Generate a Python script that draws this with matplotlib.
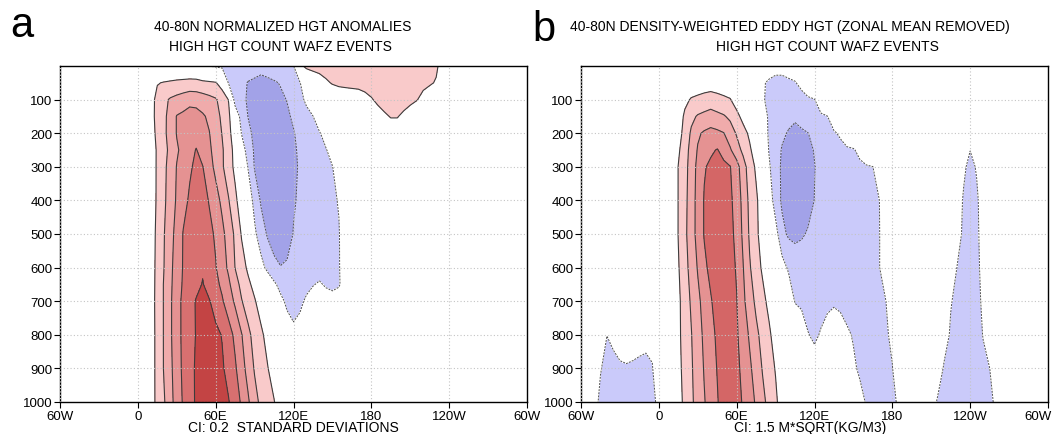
import numpy as np
import matplotlib.pyplot as plt
from matplotlib.transforms import ScaledTranslation

plt.rcParams["font.family"] = ["Liberation Sans", "DejaVu Sans"]

# Longitude grid (-60 = 60W ... 300 = 60W again), 5 degree spacing
lon_grid = np.arange(-60, 305, 5)
x_ticks = [-60, 0, 60, 120, 180, 240, 300]
x_labels = ["60W", "0", "60E", "120E", "180", "120W", "60W"]
y_ticks = [100, 200, 300, 400, 500, 600, 700, 800, 900, 1000]

# ---------------- panel a : normalized HGT anomalies (CI 0.2) ----------------
a_plev = [0, 50, 100, 150, 200, 250, 300, 400, 500, 600, 650, 700, 800, 900, 1000]

# main block, lon 5E..165E every 5 deg (red column + blue trough)
a_main_lon0 = 5
a_main = [
    [0, 0, 0, 0, 0, 0, 0, 0, 0, -0.125, -0.207, -0.225, -0.243, -0.261, -0.279, -0.296, -0.314, -0.332, -0.35, -0.323, -0.295, -0.268, -0.241, -0.214, 0, 0, 0, 0, 0, 0, 0, 0, 0],
    [0, 0.06, 0.19, 0.21, 0.225, 0.24, 0.25, 0.26, 0.255, 0.245, 0.235, 0.215, 0.1, -0.22, -0.29, -0.359, -0.408, -0.427, -0.446, -0.436, -0.418, -0.39, -0.336, -0.272, -0.208, -0.06, 0, 0, 0, 0, 0, 0, 0],
    [0, 0.133, 0.251, 0.353, 0.421, 0.459, 0.497, 0.535, 0.528, 0.491, 0.455, 0.418, 0.333, 0.19, -0.3, -0.366, -0.416, -0.448, -0.481, -0.488, -0.459, -0.429, -0.395, -0.329, -0.257, -0.16, 0, 0, 0, 0, 0, 0, 0],
    [0, 0.137, 0.254, 0.354, 0.47, 0.61, 0.642, 0.683, 0.673, 0.627, 0.562, 0.467, 0.365, 0.247, -0.04, -0.28, -0.405, -0.453, -0.502, -0.55, -0.508, -0.467, -0.425, -0.377, -0.32, -0.263, -0.206, -0.03, 0, 0, 0, 0, 0],
    [0, 0.12, 0.244, 0.356, 0.475, 0.61, 0.654, 0.708, 0.718, 0.663, 0.608, 0.504, 0.392, 0.264, 0.067, -0.21, -0.354, -0.441, -0.499, -0.557, -0.552, -0.504, -0.457, -0.409, -0.362, -0.314, -0.267, -0.219, -0.1, 0, 0, 0, 0],
    [0, 0.1, 0.222, 0.333, 0.45, 0.575, 0.657, 0.729, 0.81, 0.717, 0.633, 0.533, 0.422, 0.293, 0.133, -0.089, -0.291, -0.425, -0.488, -0.55, -0.589, -0.533, -0.478, -0.422, -0.376, -0.336, -0.296, -0.256, -0.216, -0.1, 0, 0, 0],
    [0, 0.093, 0.225, 0.35, 0.48, 0.608, 0.692, 0.775, 0.839, 0.806, 0.68, 0.55, 0.425, 0.295, 0.151, -0.025, -0.21, -0.414, -0.483, -0.551, -0.62, -0.557, -0.494, -0.431, -0.382, -0.347, -0.312, -0.277, -0.242, -0.207, -0.067, 0, 0],
    [0, 0.093, 0.227, 0.36, 0.493, 0.624, 0.741, 0.826, 0.874, 0.867, 0.789, 0.678, 0.554, 0.41, 0.248, 0.086, -0.082, -0.26, -0.426, -0.514, -0.602, -0.561, -0.488, -0.415, -0.376, -0.346, -0.317, -0.287, -0.257, -0.227, -0.19, -0.02, 0],
    [0, 0.107, 0.243, 0.386, 0.529, 0.667, 0.81, 0.85, 0.9, 0.906, 0.847, 0.775, 0.65, 0.514, 0.364, 0.183, 0.009, -0.165, -0.3, -0.422, -0.533, -0.562, -0.468, -0.393, -0.367, -0.341, -0.315, -0.289, -0.263, -0.236, -0.21, -0.1, 0],
    [0, 0.111, 0.251, 0.394, 0.55, 0.694, 0.813, 0.869, 0.924, 0.98, 0.895, 0.81, 0.694, 0.563, 0.396, 0.284, 0.164, 0.012, -0.139, -0.246, -0.323, -0.39, -0.379, -0.358, -0.338, -0.317, -0.296, -0.275, -0.254, -0.233, -0.213, -0.1, 0],
    [0, 0.113, 0.255, 0.41, 0.559, 0.707, 0.823, 0.885, 0.948, 1.01, 0.931, 0.852, 0.759, 0.637, 0.481, 0.346, 0.242, 0.14, 0.04, -0.07, -0.17, -0.25, -0.3, -0.31, -0.29, -0.25, -0.21, -0.18, -0.22, -0.25, -0.22, -0.1, 0],
    [0, 0.114, 0.26, 0.41, 0.568, 0.723, 0.845, 0.936, 1.014, 1.06, 1.013, 0.925, 0.821, 0.7, 0.567, 0.41, 0.309, 0.218, 0.11, 0, -0.1, -0.16, -0.23, -0.28, -0.24, -0.17, -0.12, -0.1, -0.12, -0.12, -0.1, -0.05, 0],
    [0, 0.111, 0.255, 0.41, 0.568, 0.723, 0.843, 0.93, 1.01, 1.06, 1.091, 1.043, 0.991, 0.88, 0.756, 0.61, 0.446, 0.333, 0.238, 0.133, 0.022, -0.05, -0.12, -0.15, -0.12, -0.08, -0.05, -0.04, -0.04, -0.03, -0.02, 0, 0],
    [0, 0.111, 0.255, 0.409, 0.554, 0.706, 0.841, 0.943, 1.023, 1.077, 1.13, 1.077, 1.023, 0.938, 0.827, 0.681, 0.525, 0.383, 0.297, 0.21, 0.106, 0, -0.04, -0.05, -0.04, -0.03, -0.02, 0, 0, 0, 0, 0, 0],
    [0, 0.114, 0.25, 0.375, 0.533, 0.686, 0.822, 0.933, 1.023, 1.081, 1.138, 1.11, 1.06, 1.01, 0.9, 0.771, 0.629, 0.467, 0.354, 0.277, 0.21, 0.089, 0, 0, 0, 0, 0, 0, 0, 0, 0, 0, 0],
]

# small positive patch near the top, lon 125E..240E, levels 0..200 hPa
a_pink_lon0 = 125
a_pink = [
    [0.15, 0.25, 0.28, 0.3, 0.32, 0.33, 0.34, 0.34, 0.35, 0.35, 0.35, 0.35, 0.35, 0.35, 0.35, 0.34, 0.34, 0.33, 0.32, 0.3, 0.28, 0.24, 0.1, 0],
    [0, 0, 0.02, 0.08, 0.16, 0.22, 0.26, 0.28, 0.3, 0.31, 0.32, 0.32, 0.32, 0.32, 0.32, 0.31, 0.3, 0.29, 0.27, 0.25, 0.23, 0.18, 0.05, 0],
    [0, 0, 0, 0, 0, 0, 0, 0, 0, 0.02, 0.1, 0.18, 0.25, 0.28, 0.29, 0.29, 0.28, 0.25, 0.21, 0.14, 0.05, 0, 0, 0],
    [0, 0, 0, 0, 0, 0, 0, 0, 0, 0, 0, 0, 0.1, 0.17, 0.21, 0.21, 0.16, 0.1, 0.05, 0, 0, 0, 0, 0],
    [0, 0, 0, 0, 0, 0, 0, 0, 0, 0, 0, 0, 0, 0, 0.1, 0.1, 0, 0, 0, 0, 0, 0, 0, 0],
]

# ---------------- panel b : density-weighted eddy HGT (CI 1.5) ----------------
b_plev = [0, 50, 100, 150, 200, 250, 300, 400, 500, 600, 700, 800, 900, 1000]

# red column, lon 5E..100E
b_red_lon0 = 5
b_red = [
    [0] * 20,
    [0, 0, 0, 0.2, 0.45, 0.6, 0.7, 0.75, 0.7, 0.6, 0.4, 0.2, 0.05, 0, 0, 0, 0, 0, 0, 0],
    [0, 0, 0, 1.125, 1.636, 1.83, 2.025, 2.19, 1.98, 1.78, 1.58, 0.75, 0, 0, 0, 0, 0, 0, 0, 0],
    [0, 0, 0.625, 1.765, 2.65, 3.138, 3.369, 3.6, 3.369, 3.138, 2.7, 1.95, 1.0, 0, 0, 0, 0, 0, 0, 0],
    [0, 0, 0.85, 2.06, 3.214, 4.286, 4.7, 4.95, 4.8, 4.55, 3.75, 2.847, 2.082, 1.2, 0, 0, 0, 0, 0, 0],
    [0, 0, 1.25, 2.357, 3.5, 4.615, 5.192, 5.769, 6.08, 5.5, 4.667, 3.643, 2.647, 1.765, 0.625, 0, 0, 0, 0, 0],
    [0, 0.3, 1.539, 2.455, 3.682, 4.895, 5.882, 6.281, 6.6, 6.327, 6.055, 5.091, 3.615, 2.3, 1.25, 0, 0, 0, 0, 0],
    [0, 0.3, 1.542, 2.583, 3.75, 5.017, 6.098, 6.508, 6.918, 6.667, 6.25, 5.455, 4.0, 2.647, 1.765, 0.625, 0, 0, 0, 0],
    [0, 0.25, 1.55, 2.654, 3.808, 5.0, 6.092, 6.554, 7.015, 6.892, 6.379, 5.632, 4.2, 2.8, 1.8, 0.875, 0, 0, 0, 0],
    [0, 0.125, 1.375, 2.464, 3.536, 4.607, 5.679, 6.396, 6.961, 7.074, 6.509, 5.864, 4.55, 3.136, 2.206, 1.25, 0, 0, 0, 0],
    [0, 0, 1.175, 2.221, 3.192, 4.154, 5.033, 5.867, 6.593, 7.3, 6.65, 6.05, 4.828, 3.669, 2.694, 1.966, 1.05, 0, 0, 0],
    [0, 0, 1.175, 2.11, 2.934, 3.896, 4.779, 5.515, 6.254, 7.0, 6.881, 6.182, 5.279, 4.305, 3.331, 2.519, 1.791, 0.75, 0, 0],
    [0, 0, 1.05, 2.016, 2.823, 3.713, 4.602, 5.33, 6.062, 6.836, 7.029, 6.352, 5.6, 4.767, 3.838, 2.898, 2.17, 1.4, 0.15, 0],
    [0, 0, 0.85, 1.9, 2.733, 3.567, 4.4, 5.147, 5.882, 6.666, 7.17, 6.52, 5.85, 5.1, 4.313, 3.375, 2.55, 1.8, 0.75, 0],
]

# blue trough east of the column, lon 75E..190
b_blue_lon0 = 75
b_blue = [
    [0, -0.5, -0.8, -1.0, -1.0, -0.8, -0.5, -0.2, 0, 0, 0, 0, 0, 0, 0, 0, 0, 0, 0, 0, 0, 0, 0, 0],
    [0, -1.35, -1.696, -1.913, -1.909, -1.758, -1.606, -1.05, 0, 0, 0, 0, 0, 0, 0, 0, 0, 0, 0, 0, 0, 0, 0, 0],
    [0, -1.38, -1.758, -2.039, -2.319, -2.6, -2.338, -2.076, -1.814, -1.552, -0.3, 0, 0, 0, 0, 0, 0, 0, 0, 0, 0, 0, 0, 0],
    [0, -0.9, -1.691, -2.014, -2.327, -2.645, -2.847, -2.583, -2.319, -2.055, -1.792, -1.526, -0.15, 0, 0, 0, 0, 0, 0, 0, 0, 0, 0, 0],
    [0, -0.6, -1.714, -2.25, -2.786, -3.1, -3.267, -3.167, -3.02, -2.688, -2.375, -2.063, -1.75, -1.2, 0, 0, 0, 0, 0, 0, 0, 0, 0, 0],
    [0, -0.18, -1.605, -2.477, -3.092, -3.323, -3.554, -3.415, -3.185, -2.957, -2.739, -2.522, -2.304, -2.087, -1.87, -1.652, -1.05, 0, 0, 0, 0, 0, 0, 0],
    [0, 0, -1.29, -2.524, -3.171, -3.457, -3.743, -3.578, -3.3, -3.022, -2.847, -2.681, -2.514, -2.348, -2.182, -2.015, -1.849, -1.683, -1.517, -0.15, 0, 0, 0, 0],
    [0, 0, -0.6, -2.25, -3.208, -3.554, -3.9, -3.59, -3.279, -2.985, -2.838, -2.691, -2.544, -2.397, -2.25, -2.103, -1.956, -1.809, -1.662, -1.515, -0.15, 0, 0, 0],
    [0, 0, 0, -0.9, -2.625, -3.2, -3.35, -3.1, -2.925, -2.8, -2.675, -2.55, -2.425, -2.3, -2.175, -2.05, -1.925, -1.8, -1.675, -1.55, -0.6, 0, 0, 0],
    [0, 0, 0, 0, -0.9, -1.731, -2.115, -2.5, -2.421, -2.343, -2.264, -2.185, -2.106, -2.028, -1.949, -1.87, -1.791, -1.713, -1.634, -1.555, -0.45, 0, 0, 0],
    [0, 0, 0, 0, 0, -0.3, -1.6, -1.8, -1.95, -2.0, -1.9, -1.7, -1.6, -1.65, -1.75, -1.8, -1.8, -1.75, -1.7, -1.6, -1.52, -0.5, 0, 0],
    [0, 0, 0, 0, 0, 0, 0, -0.6, -1.45, -1.7, -1.4, -1.15, -1.05, -1.2, -1.4, -1.55, -1.7, -1.8, -1.8, -1.75, -1.7, -1.2, 0, 0],
    [0, 0, 0, 0, 0, 0, 0, -0.3, -0.7, -1.0, -1.0, -0.9, -0.9, -1.0, -1.2, -1.4, -1.6, -1.8, -1.85, -1.8, -1.7, -1.55, -0.5, 0],
    [0, 0, 0, 0, 0, 0, 0, 0, -0.3, -0.5, -0.6, -0.6, -0.6, -0.7, -0.9, -1.1, -1.3, -1.55, -1.75, -1.8, -1.75, -1.65, -1.4, 0],
]

# narrow trough near 120W, lon 205..270
b_narrow_lon0 = 205
b_narrow = [
    [0] * 14,
    [0] * 14,
    [0] * 14,
    [0] * 14,
    [0] * 14,
    [0, 0, 0, 0, 0, 0, -1.0, -1.47, -1.0, 0, 0, 0, 0, 0],
    [0, 0, 0, 0, 0, 0, -1.2, -2.0, -1.35, 0, 0, 0, 0, 0],
    [0, 0, 0, 0, 0, -0.6, -1.7, -2.2, -1.8, -0.6, 0, 0, 0, 0],
    [0, 0, 0, 0, 0, -0.9, -1.8, -2.2, -1.85, -0.8, 0, 0, 0, 0],
    [0, 0, 0, 0, -0.5, -1.55, -2.0, -2.2, -1.9, -1.0, 0, 0, 0, 0],
    [0, 0, 0, -0.5, -1.4, -1.9, -2.1, -2.2, -2.0, -1.2, 0, 0, 0, 0],
    [0, 0, 0, -0.8, -1.7, -2.0, -2.2, -2.2, -2.0, -1.45, -0.3, 0, 0, 0],
    [0, 0, -0.6, -1.7, -2.0, -2.1, -2.2, -2.2, -2.0, -1.8, -1.52, -0.4, 0, 0],
    [0, -0.7, -1.7, -1.9, -2.0, -2.1, -2.1, -2.1, -2.0, -1.9, -1.75, -1.3, 0, 0],
]

# low-level trough west of Greenwich, lon 60W..0, levels 700..1000 hPa
b_west_lon0 = -60
b_west_plev0 = 700
b_west = [
    [0] * 13,
    [0, 0, -0.5, -1.2, -1.48, -1.2, -1.0, -0.9, -1.0, -1.1, -1.2, -1.0, 0],
    [0, 0, -0.6, -1.4, -2.0, -1.85, -1.65, -1.6, -1.65, -1.72, -1.75, -1.6, 0],
    [0, 0, -0.8, -1.9, -2.1, -2.1, -2.1, -2.1, -2.0, -2.0, -1.9, -1.8, -1.2],
]


def build_field(plev, blocks):
    field = np.zeros((len(plev), len(lon_grid)))
    for lon0, p0, rows in blocks:
        rows = np.array(rows, dtype=float)
        i0 = int((lon0 + 60) // 5)
        j0 = plev.index(p0)
        field[j0:j0 + rows.shape[0], i0:i0 + rows.shape[1]] += rows
    return field


field_a = build_field(a_plev, [(a_main_lon0, 0, a_main), (a_pink_lon0, 0, a_pink)])
field_b = build_field(b_plev, [(b_red_lon0, 0, b_red), (b_blue_lon0, 0, b_blue),
                               (b_narrow_lon0, 0, b_narrow),
                               (b_west_lon0, b_west_plev0, b_west)])

dark_blue = "#a2a2e8"
light_blue = "#cacafa"
reds = ["#f9caca", "#f0abab", "#e59292", "#d87070", "#c34444"]


def draw_panel(ax, plev, field, neg_levels, pos_levels, red_colors):
    fill_levels = [-100] + neg_levels + pos_levels + [100]
    fill_colors = [dark_blue, light_blue, "white"] + red_colors
    ax.contourf(lon_grid, plev, field, levels=fill_levels, colors=fill_colors)
    ax.contour(lon_grid, plev, field, levels=pos_levels, colors="#3c3c3c",
               linewidths=0.8, linestyles="solid")
    ax.contour(lon_grid, plev, field, levels=neg_levels, colors="#505050",
               linewidths=0.7, linestyles=[(0, (2.0, 1.2))])
    ax.set_xlim(-60, 300)
    ax.set_ylim(1000, 0)
    ax.set_xticks(x_ticks)
    ax.set_xticklabels(x_labels)
    ax.set_yticks(y_ticks)
    ax.tick_params(direction="out", length=4, width=0.8, labelsize=9.5, pad=1.5)
    ax.set_axisbelow(False)
    ax.grid(True, color="#c4c4c4", linestyle=(0, (1, 2)), linewidth=0.8)
    for sp in ax.spines.values():
        sp.set_linewidth(1.0)


fig = plt.figure(figsize=(10.57, 4.35), dpi=100)
ax_a = fig.add_axes([60 / 1057, 1 - 403 / 435, 467 / 1057, 336 / 435])
ax_b = fig.add_axes([581 / 1057, 1 - 403 / 435, 467 / 1057, 336 / 435])

draw_panel(ax_a, a_plev, field_a, [-0.4, -0.2], [0.2, 0.4, 0.6, 0.8, 1.0], reds)
draw_panel(ax_b, b_plev, field_b, [-3.0, -1.5], [1.5, 3.0, 4.5, 6.0], reds[:3] + ["#d46666"])

# keep the last longitude label of panel b inside the figure
last_lbl = ax_b.get_xticklabels()[-1]
last_lbl.set_transform(last_lbl.get_transform() + ScaledTranslation(-7 / 72, 0, fig.dpi_scale_trans))

# titles, panel letters and contour interval notes
fig.text(283 / 1057, 1 - 27 / 435, "40-80N NORMALIZED HGT ANOMALIES", ha="center", va="center", fontsize=10)
fig.text(280 / 1057, 1 - 47 / 435, "HIGH HGT COUNT WAFZ EVENTS", ha="center", va="center", fontsize=10)
fig.text(790 / 1057, 1 - 27 / 435, "40-80N DENSITY-WEIGHTED EDDY HGT (ZONAL MEAN REMOVED)",
         ha="center", va="center", fontsize=10)
fig.text(827 / 1057, 1 - 47 / 435, "HIGH HGT COUNT WAFZ EVENTS", ha="center", va="center", fontsize=10)
fig.text(10 / 1057, 1 - 37 / 435, "a", fontsize=30, va="baseline")
fig.text(532 / 1057, 1 - 41 / 435, "b", fontsize=30, va="baseline")
fig.text(293 / 1057, 1 - 428 / 435, "CI: 0.2  STANDARD DEVIATIONS", ha="center", va="center", fontsize=10)
fig.text(810 / 1057, 1 - 428 / 435, "CI: 1.5 M*SQRT(KG/M3)", ha="center", va="center", fontsize=10)

fig.savefig("out.png", dpi=100)
plt.close(fig)
